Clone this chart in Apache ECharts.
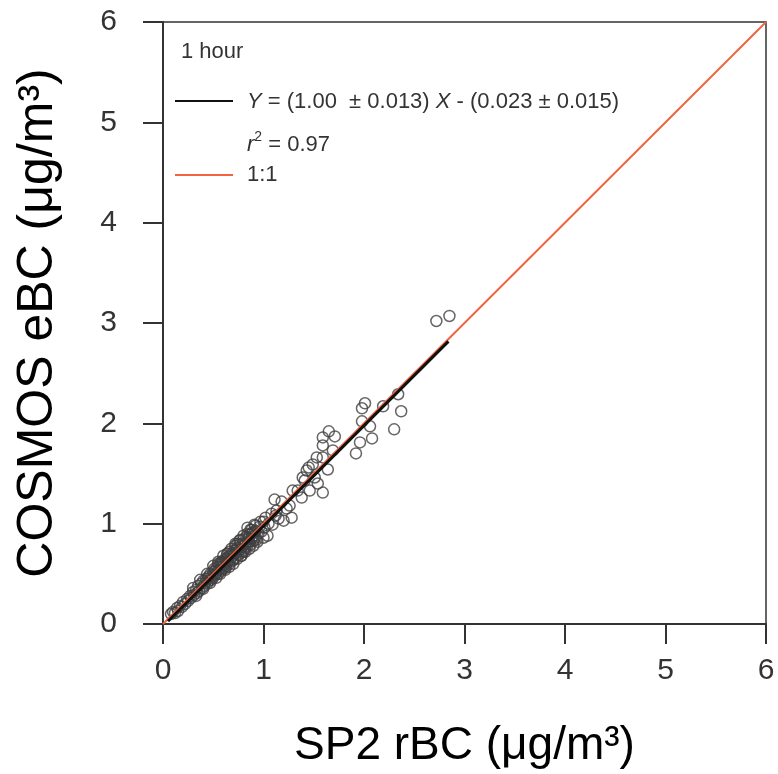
<!DOCTYPE html>
<html>
<head>
<meta charset="utf-8">
<script src="https://cdn.jsdelivr.net/npm/echarts@6/dist/echarts.min.js"></script>
<style>
  html, body { margin: 0; padding: 0; background: #fff; }
  #chart { width: 778px; height: 774px; }
</style>
</head>
<body>
<div id="chart"></div>
<script>
// hourly SP2 rBC vs COSMOS eBC
const sp2 = [
  0.08, 0.10, 0.12, 0.14, 0.15, 0.17, 0.19, 0.20, 0.22, 0.24, 0.25, 0.27, 0.28, 0.30, 0.31, 0.33,
  0.34, 0.35, 0.36, 0.38, 0.39, 0.40, 0.41, 0.42, 0.43, 0.44, 0.45, 0.46, 0.47, 0.48, 0.49, 0.50,
  0.50, 0.51, 0.52, 0.53, 0.54, 0.55, 0.56, 0.57, 0.58, 0.59, 0.60, 0.60, 0.61, 0.62, 0.63, 0.64,
  0.65, 0.66, 0.67, 0.68, 0.69, 0.70, 0.71, 0.72, 0.73, 0.74, 0.75, 0.76, 0.77, 0.78, 0.79, 0.80,
  0.81, 0.82, 0.83, 0.84, 0.85, 0.86, 0.87, 0.88, 0.89, 0.90, 0.91, 0.92, 0.93, 0.95, 0.96, 0.98,
  0.55, 0.62, 0.66, 0.70, 0.74, 0.78, 0.82, 0.86, 0.58, 0.64, 0.72, 0.80, 0.88, 0.92,
  0.30, 0.33, 0.37, 0.40, 0.44, 0.47, 0.50, 0.53, 0.55, 0.57, 0.60, 0.62, 0.64, 0.66, 0.68, 0.70,
  0.72, 0.74, 0.76, 0.78, 0.80, 0.82, 0.84, 0.86, 0.88, 0.90, 0.92, 0.94, 0.97, 1.00, 0.45, 0.52,
  0.58, 0.63, 0.67, 0.73, 0.79, 0.85, 0.91, 1.05, 1.08, 1.15, 1.18, 1.23,
  0.84, 0.77, 0.87, 0.91, 1.00, 1.01, 1.02, 1.04, 1.09, 1.11, 1.13, 1.12, 1.20, 1.26, 1.28, 1.29,
  1.34, 1.38, 1.39, 1.41, 1.43, 1.45, 1.46, 1.49, 1.51, 1.53, 1.54, 1.59, 1.59, 1.59, 1.59, 1.64,
  1.65, 1.69, 1.71, 1.92, 1.96, 1.98, 1.98, 2.01, 2.06, 2.08, 2.19, 2.30, 2.34, 2.37, 2.72, 2.85
];
const cosmos = [
  0.10, 0.12, 0.11, 0.16, 0.13, 0.18, 0.17, 0.22, 0.20, 0.25, 0.23, 0.28, 0.26, 0.32, 0.29, 0.34,
  0.31, 0.38, 0.33, 0.40, 0.36, 0.43, 0.38, 0.41, 0.45, 0.40, 0.47, 0.43, 0.50, 0.44, 0.48, 0.52,
  0.46, 0.55, 0.49, 0.51, 0.57, 0.50, 0.54, 0.60, 0.53, 0.57, 0.62, 0.55, 0.59, 0.65, 0.58, 0.62,
  0.67, 0.60, 0.64, 0.70, 0.63, 0.68, 0.73, 0.66, 0.71, 0.76, 0.69, 0.74, 0.80, 0.71, 0.77, 0.84,
  0.74, 0.80, 0.87, 0.78, 0.82, 0.89, 0.79, 0.85, 0.91, 0.83, 0.88, 0.93, 0.84, 0.90, 0.97, 0.92,
  0.60, 0.56, 0.72, 0.64, 0.80, 0.68, 0.76, 0.82, 0.62, 0.70, 0.78, 0.72, 0.90, 0.86,
  0.36, 0.28, 0.44, 0.35, 0.50, 0.41, 0.58, 0.46, 0.62, 0.50, 0.68, 0.54, 0.70, 0.57, 0.75, 0.60,
  0.80, 0.65, 0.83, 0.68, 0.88, 0.72, 0.90, 0.75, 0.94, 0.78, 0.98, 0.82, 1.02, 0.86, 0.45, 0.53,
  0.59, 0.64, 0.68, 0.74, 0.80, 0.86, 0.92, 1.00, 1.10, 1.05, 1.22, 1.15,
  0.96, 0.84, 0.94, 0.99, 1.02, 0.96, 1.06, 0.88, 0.99, 1.24, 1.13, 1.08, 1.03, 1.18, 1.06, 1.33,
  1.33, 1.26, 1.46, 1.43, 1.53, 1.56, 1.33, 1.59, 1.46, 1.66, 1.40, 1.31, 1.66, 1.78, 1.86, 1.54,
  1.92, 1.73, 1.87, 1.70, 1.81, 2.02, 2.15, 2.20, 1.97, 1.85, 2.17, 1.94, 2.29, 2.12, 3.02, 3.07
];
const fitLine = [[0.05, 0.027], [2.84, 2.817]];
const oneToOne = [[0, 0], [6, 6]];
const ticks = [0, 1, 2, 3, 4, 5, 6];

const points = sp2.map((x, i) => [x, cosmos[i]]);

const chart = echarts.init(document.getElementById('chart'));
const axisCol = '#333';
const txtCol = '#333';
const font = '"Liberation Sans", Arial, sans-serif';

const axisBase = {
  type: 'value',
  min: ticks[0],
  max: ticks[ticks.length - 1],
  interval: 1,
  splitLine: { show: false },
  axisLine: { show: true, onZero: false, lineStyle: { color: axisCol, width: 2 } },
  axisTick: { show: true, inside: false, length: 20, lineStyle: { color: axisCol, width: 2 } },
  nameLocation: 'middle'
};

chart.setOption({
  animation: false,
  backgroundColor: '#fff',
  grid: {
    left: 163, right: 12, top: 22, bottom: 147,
    show: true, borderColor: axisCol, borderWidth: 1.5, backgroundColor: 'transparent'
  },
  xAxis: Object.assign({}, axisBase, {
    name: 'SP2 rBC (μg/m³)',
    nameGap: 99,
    nameTextStyle: { fontFamily: font, fontSize: 46, color: '#000' },
    axisLabel: { margin: 32, fontFamily: font, fontSize: 30, color: txtCol }
  }),
  yAxis: Object.assign({}, axisBase, {
    name: 'COSMOS eBC (μg/m³)',
    nameGap: 100,
    nameTextStyle: { fontFamily: font, fontSize: 50, color: '#000' },
    axisLabel: { margin: 46, fontFamily: font, fontSize: 30, color: txtCol }
  }),
  graphic: [
    { type: 'text', x: 181, y: 52, style: { text: '1 hour', font: '22px ' + font, fill: txtCol, verticalAlign: 'middle' } },
    { type: 'line', shape: { x1: 175, y1: 101, x2: 233, y2: 101 }, style: { stroke: '#111', lineWidth: 2 } },
    {
      type: 'text', x: 247, y: 102,
      style: {
        text: '{i|Y} = (1.00  ± 0.013) {i|X} - (0.023 ± 0.015)',
        font: '22px ' + font, fill: txtCol, verticalAlign: 'middle',
        rich: { i: { fontStyle: 'italic', fontSize: 22, fontFamily: font, fill: txtCol } }
      }
    },
    {
      type: 'text', x: 247, y: 143,
      style: {
        text: '{i|r}{s|2}{n| = 0.97}',
        font: '22px ' + font, fill: txtCol, verticalAlign: 'middle',
        rich: {
          i: { fontStyle: 'italic', fontSize: 22, fontFamily: font, fill: txtCol, lineHeight: 26, verticalAlign: 'bottom' },
          n: { fontSize: 22, fontFamily: font, fill: txtCol, lineHeight: 26, verticalAlign: 'bottom' },
          s: { fontSize: 14, fontFamily: font, fill: txtCol, verticalAlign: 'top' }
        }
      }
    },
    { type: 'line', shape: { x1: 175, y1: 175, x2: 233, y2: 175 }, style: { stroke: '#f26440', lineWidth: 2 } },
    { type: 'text', x: 247, y: 175, style: { text: '1:1', font: '22px ' + font, fill: txtCol, verticalAlign: 'middle' } }
  ],
  series: [
    {
      name: '1:1',
      type: 'line',
      data: oneToOne,
      symbol: 'none',
      lineStyle: { color: '#f26440', width: 2 },
      z: 3
    },
    {
      name: 'points',
      type: 'scatter',
      data: points,
      symbol: 'circle',
      symbolSize: 11,
      itemStyle: { color: 'rgba(0,0,0,0)', borderColor: '#404040', borderWidth: 1.5 },
      z: 2
    },
    {
      name: 'fit',
      type: 'line',
      data: fitLine,
      symbol: 'none',
      lineStyle: { color: '#111', width: 3 },
      z: 4
    }
  ]
});
</script>
</body>
</html>
